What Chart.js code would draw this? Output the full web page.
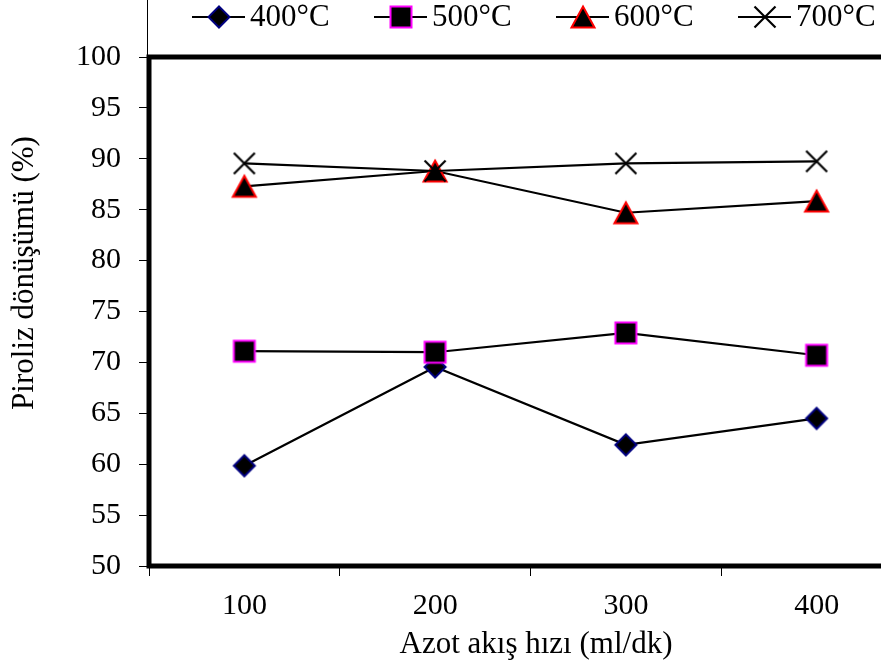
<!DOCTYPE html>
<html>
<head>
<meta charset="utf-8">
<script src="https://cdn.jsdelivr.net/npm/chart.js@4/dist/chart.umd.min.js"></script>
<style>
  html, body { margin: 0; padding: 0; background: #fff; overflow: hidden; }
  #wrap { position: absolute; left: 0; top: 0; width: 930px; height: 669px; }
</style>
</head>
<body>
<div id="wrap"><canvas id="c" width="930" height="669"></canvas></div>
<script>
const categories = ['100', '200', '300', '400'];
const seriesNames = ['400°C', '500°C', '600°C', '700°C'];
const s400 = [59.85, 69.55, 61.9, 64.5];
const s500 = [71.1, 71.0, 72.9, 70.7];
const s600 = [87.3, 88.8, 84.7, 85.85];
const s700 = [89.55, 88.8, 89.55, 89.75];
const yTicks = [50, 55, 60, 65, 70, 75, 80, 85, 90, 95, 100];
const xTitle = 'Azot akış hızı (ml/dk)';
const yTitle = 'Piroliz dönüşümü (%)';

const FONT = '"Liberation Serif", "Times New Roman", serif';

function mk(draw) {
  const c = document.createElement('canvas');
  c.width = 30; c.height = 30;
  const g = c.getContext('2d');
  draw(g, 15, 15);
  return c;
}
const mDiamond = mk((g, cx, cy) => {
  g.beginPath();
  g.moveTo(cx, cy - 10.5); g.lineTo(cx + 10.5, cy); g.lineTo(cx, cy + 10.5); g.lineTo(cx - 10.5, cy); g.closePath();
  g.fillStyle = '#000'; g.fill();
  g.lineWidth = 2; g.strokeStyle = '#000080'; g.stroke();
});
const mSquare = mk((g, cx, cy) => {
  g.beginPath(); g.rect(cx - 10.5, cy - 10.5, 21, 21);
  g.fillStyle = '#000'; g.fill();
  g.lineWidth = 2; g.strokeStyle = '#FF00FF'; g.stroke();
});
const mTriangle = mk((g, cx, cy) => {
  g.beginPath();
  g.moveTo(cx, cy - 10.5); g.lineTo(cx + 11.5, cy + 10.5); g.lineTo(cx - 11.5, cy + 10.5); g.closePath();
  g.fillStyle = '#000'; g.fill();
  g.lineWidth = 2; g.lineJoin = 'miter'; g.strokeStyle = '#FF0000'; g.stroke();
});
const mCross = mk((g, cx, cy) => {
  g.beginPath();
  g.moveTo(cx - 10.5, cy - 10.5); g.lineTo(cx + 10.5, cy + 10.5);
  g.moveTo(cx + 10.5, cy - 10.5); g.lineTo(cx - 10.5, cy + 10.5);
  g.lineWidth = 2.2; g.strokeStyle = '#000'; g.stroke();
});
const markers = [mDiamond, mSquare, mTriangle, mCross];
const seriesData = [s400, s500, s600, s700];

const datasets = seriesData.map((d, i) => ({
  label: seriesNames[i],
  data: d,
  borderColor: '#000',
  borderWidth: 2.2,
  pointStyle: markers[i],
  pointRadius: 12,
  pointHoverRadius: 12,
  tension: 0,
  fill: false,
  order: 3 - i
}));

const framePlugin = {
  id: 'frame',
  beforeDatasetsDraw(chart) {
    const { ctx, chartArea: a } = chart;
    ctx.save();
    ctx.strokeStyle = '#000';
    ctx.lineWidth = 1;
    ctx.beginPath();
    ctx.moveTo(147.5, 0); ctx.lineTo(147.5, a.top);
    ctx.stroke();
    ctx.lineWidth = 5;
    ctx.strokeRect(a.left, a.top, a.right - a.left, a.bottom - a.top);
    ctx.restore();
  },
  afterDraw(chart) {
    const { ctx } = chart;
    ctx.save();
    const ly = 17;
    chart.data.datasets.forEach((ds, i) => {
      const x0 = 192 + 182 * i;
      ctx.strokeStyle = '#000'; ctx.lineWidth = 2;
      ctx.beginPath(); ctx.moveTo(x0, ly); ctx.lineTo(x0 + 53, ly); ctx.stroke();
      ctx.drawImage(markers[i], x0 + 27 - 15, ly - 15);
      ctx.fillStyle = '#000';
      ctx.font = '31px ' + FONT;
      ctx.textAlign = 'left'; ctx.textBaseline = 'middle';
      ctx.fillText(ds.label, x0 + 58, ly + 1);
    });
    ctx.fillStyle = '#000';
    ctx.font = '31px ' + FONT;
    ctx.textAlign = 'center'; ctx.textBaseline = 'middle';
    ctx.fillText(xTitle, 536, 645);
    ctx.translate(25, 273);
    ctx.rotate(-Math.PI / 2);
    ctx.fillText(yTitle, 0, 0);
    ctx.restore();
  }
};

new Chart(document.getElementById('c'), {
  type: 'line',
  data: { labels: categories, datasets },
  options: {
    responsive: false,
    animation: false,
    layout: { padding: { top: 57, right: 18, left: 0, bottom: 0 } },
    plugins: { legend: { display: false }, tooltip: { enabled: false }, title: { display: false } },
    scales: {
      x: {
        type: 'category',
        offset: true,
        grid: { offset: true, drawOnChartArea: false, drawTicks: true, tickLength: 10, color: '#000', lineWidth: 1 },
        border: { display: false },
        ticks: { color: '#000', font: { family: FONT, size: 30 }, padding: 12, maxRotation: 0 },
        afterFit(s) { s.height = 103; }
      },
      y: {
        min: 50, max: 100,
        afterBuildTicks(s) { s.ticks = yTicks.map(v => ({ value: v })); },
        grid: { drawOnChartArea: false, drawTicks: true, tickLength: 10, color: '#000', lineWidth: 1 },
        border: { display: false },
        ticks: { color: '#000', font: { family: FONT, size: 30 }, padding: 18 },
        afterFit(s) { s.width = 149; }
      }
    }
  },
  plugins: [framePlugin]
});
</script>
</body>
</html>
